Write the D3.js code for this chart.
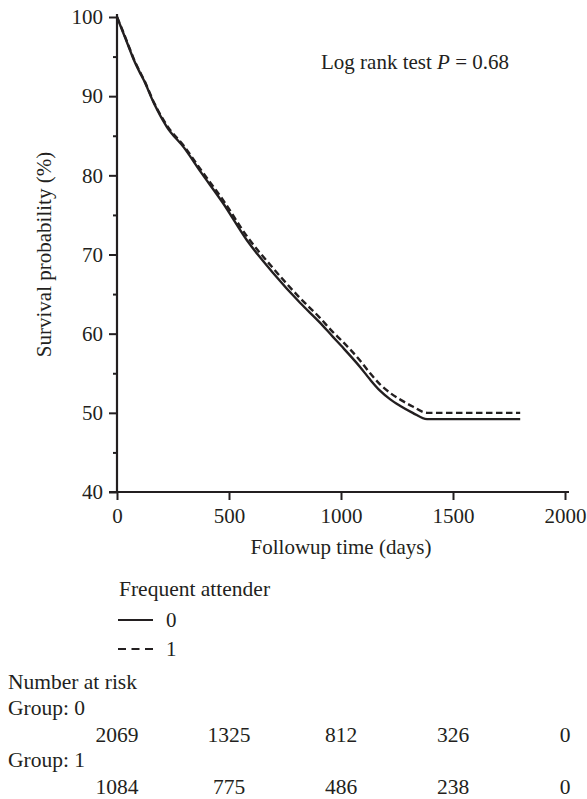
<!DOCTYPE html>
<html>
<head>
<meta charset="utf-8">
<script src="https://cdn.jsdelivr.net/npm/d3@7"></script>
<style>
  body { margin: 0; background: #fff; }
  text { font-family: "Liberation Serif", "Times New Roman", serif; fill: #231f20; }
</style>
</head>
<body>
<div id="chart"></div>
<script>
// survival curves (days, %)
var times = [0, 25, 50, 75, 100, 120, 165, 223, 299, 372, 473, 580, 696, 817, 906, 964, 1000, 1085, 1130, 1174, 1220, 1263, 1320, 1384, 1800];
var group0 = [100, 98.2, 96.4, 94.6, 93.1, 92, 89.1, 86.1, 83.5, 80.5, 76.5, 71.8, 67.7, 63.9, 61.4, 59.6, 58.5, 55.8, 54.2, 52.8, 51.7, 50.9, 50, 49.2, 49.2];
var group1 = [100, 98.3, 96.5, 94.7, 93.2, 92.1, 89.2, 86.3, 83.7, 80.8, 76.9, 72.3, 68.3, 64.5, 62, 60.2, 59.2, 56.6, 55, 53.6, 52.5, 51.7, 50.8, 50, 50];

var xTicks = [0, 500, 1000, 1500, 2000];
var yTicks = [40, 50, 60, 70, 80, 90, 100];
var yMinor = [45, 55, 65, 75, 85, 95];

var riskTimes = [0, 500, 1000, 1500, 2000];
var risk0 = [2069, 1325, 812, 326, 0];
var risk1 = [1084, 775, 486, 238, 0];

var ink = "#231f20";
var fs = "21px";
var svg = d3.select("#chart").append("svg")
  .attr("width", 587)
  .attr("height", 799);

var x = d3.scaleLinear().domain([0, 2000]).range([117, 565]);
var y = d3.scaleLinear().domain([40, 100]).range([492, 17]);

//axes
var xAxis = svg.append("g")
  .attr("transform", "translate(0," + y(40) + ")")
  .call(d3.axisBottom(x).tickValues(xTicks).tickFormat(d3.format("d")).tickSize(8).tickPadding(8).tickSizeOuter(0));
var yAxis = svg.append("g")
  .attr("transform", "translate(" + x(0) + ",0)")
  .call(d3.axisLeft(y).tickValues(yTicks).tickSize(8).tickPadding(6).tickSizeOuter(0));
svg.append("g")
  .attr("transform", "translate(" + x(0) + ",0)")
  .call(d3.axisLeft(y).tickValues(yMinor).tickSize(4).tickFormat(""))
  .select(".domain").remove();

svg.selectAll("g").attr("font-family", null);
svg.selectAll(".domain").attr("stroke", ink).attr("stroke-width", 2.2);
svg.selectAll(".tick line").attr("stroke", ink).attr("stroke-width", 2);
svg.selectAll(".tick text").style("font-size", fs).attr("fill", ink);
// x axis line runs a little past the last tick
xAxis.select(".domain").attr("d", "M" + (x(0) - 8) + ",0H" + (x(2000) + 4));
yAxis.select(".domain").attr("d", "M0," + (y(40) + 1) + "V" + (y(100) - 3));

//survival lines
var line = d3.line()
  .x(function(d) { return x(d[0]); })
  .y(function(d) { return y(d[1]); })
  .curve(d3.curveMonotoneX);

svg.append("path")
  .attr("d", line(d3.zip(times, group1)))
  .attr("fill", "none")
  .attr("stroke", ink)
  .attr("stroke-width", 2.4)
  .attr("stroke-dasharray", "6.5,3.5");
svg.append("path")
  .attr("d", line(d3.zip(times, group0)))
  .attr("fill", "none")
  .attr("stroke", ink)
  .attr("stroke-width", 2.4);

//labels
svg.append("text")
  .attr("transform", "translate(51," + (y(40) + y(100)) / 2 + ") rotate(-90)")
  .attr("text-anchor", "middle")
  .style("font-size", fs)
  .text("Survival probability (%)");
svg.append("text")
  .attr("x", x(1000)).attr("y", 554)
  .attr("text-anchor", "middle")
  .style("font-size", fs)
  .text("Followup time (days)");

var logRank = svg.append("text")
  .attr("x", 321).attr("y", 69)
  .style("font-size", fs);
logRank.append("tspan").text("Log rank test ");
logRank.append("tspan").style("font-style", "italic").text("P");
logRank.append("tspan").text(" = 0.68");

//legend
svg.append("text").attr("x", 119).attr("y", 596).style("font-size", "21.5px").text("Frequent attender");
var legendRows = [{label: "0", y: 620, dash: null}, {label: "1", y: 649, dash: "8,5.5"}];
legendRows.forEach(function(r) {
  svg.append("line")
    .attr("x1", 118).attr("x2", 153)
    .attr("y1", r.y).attr("y2", r.y)
    .attr("stroke", ink).attr("stroke-width", 2)
    .attr("stroke-dasharray", r.dash);
  svg.append("text").attr("x", 166).attr("y", r.y + 7).style("font-size", fs).text(r.label);
});

//number at risk table
svg.append("text").attr("x", 8).attr("y", 689).style("font-size", "21.5px").text("Number at risk");
var riskRows = [{name: "Group: 0", vals: risk0, y: 715}, {name: "Group: 1", vals: risk1, y: 767}];
riskRows.forEach(function(r) {
  svg.append("text").attr("x", 8).attr("y", r.y).style("font-size", "21.5px").text(r.name);
  svg.selectAll(null)
    .data(d3.zip(riskTimes, r.vals))
    .enter().append("text")
    .attr("x", function(d) { return x(d[0]); })
    .attr("y", r.y + 27)
    .attr("text-anchor", "middle")
    .style("font-size", "21.5px")
    .text(function(d) { return d[1]; });
});
</script>
</body>
</html>
